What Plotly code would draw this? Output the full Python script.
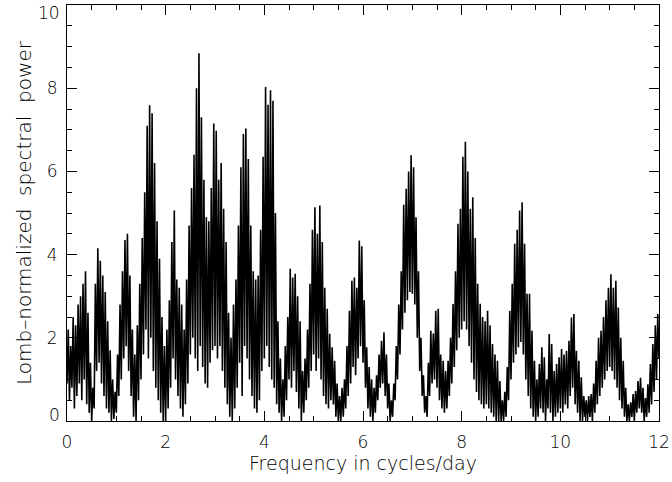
import numpy as np
import plotly.graph_objects as go

# Peak values of the fine oscillation, one every 0.05 cycles/day (at 0.025, 0.075, ...)
peaks = [
    # 0 - 1
    2.2, 1.8, 2.5, 2.3, 2.8, 3.0, 3.3, 3.6, 2.6, 1.4,
    0.8, 3.3, 4.15, 3.85, 3.5, 3.1, 2.4, 1.7, 1.0, 0.7,
    # 1 - 2
    1.6, 2.8, 3.6, 4.35, 4.5, 3.5, 2.2, 1.6, 2.3, 3.3,
    4.4, 5.5, 7.1, 7.59, 7.4, 6.2, 4.8, 3.9, 2.5, 1.8,
    # 2 - 3
    2.2, 2.9, 4.3, 5.06, 3.4, 3.2, 2.8, 2.2, 3.4, 4.7,
    5.6, 6.4, 8.0, 8.84, 7.3, 5.8, 4.9, 4.8, 5.6, 7.15,
    # 3 - 4
    6.98, 5.8, 6.2, 5.1, 4.3, 2.6, 2.0, 2.8, 3.4, 4.7,
    6.1, 6.9, 7.03, 6.3, 4.7, 3.6, 3.4, 3.5, 4.6, 6.35,
    # 4 - 5
    8.03, 7.6, 7.95, 7.7, 5.0, 2.4, 1.5, 1.0, 1.8, 2.5,
    3.66, 3.45, 3.54, 3.0, 2.4, 1.2, 1.5, 2.2, 3.3, 4.6,
    # 5 - 6
    5.14, 4.5, 5.18, 4.3, 3.2, 2.7, 2.1, 1.77, 1.45, 0.9,
    0.6, 0.8, 1.0, 1.8, 2.65, 3.37, 3.45, 3.2, 4.34, 4.2,
    # 6 - 7
    2.9, 1.77, 1.3, 1.0, 0.8, 1.1, 1.6, 1.93, 2.13, 1.6,
    0.9, 0.5, 0.9, 1.8, 2.8, 3.6, 5.2, 5.58, 6.0, 6.39,
    # 7 - 8
    6.1, 4.9, 3.6, 2.0, 1.1, 0.6, 1.4, 2.17, 2.1, 2.65,
    2.7, 1.6, 1.45, 1.2, 1.45, 2.0, 2.81, 3.6, 4.74, 5.1,
    # 8 - 9
    6.35, 6.71, 6.0, 5.1, 5.38, 4.4, 3.3, 2.82, 2.5, 2.4,
    2.65, 2.3, 1.85, 1.6, 1.45, 0.96, 0.5, 0.7, 1.3, 2.65,
    # 9 - 10
    3.3, 4.26, 4.6, 5.06, 5.26, 4.26, 3.06, 3.06, 2.17, 1.45,
    1.0, 1.37, 1.77, 1.53, 1.0, 2.09, 1.85, 1.2, 1.37, 1.53,
    # 10 - 11
    1.73, 1.6, 1.69, 1.93, 2.49, 2.57, 1.69, 1.45, 1.05, 0.6,
    0.5, 0.6, 0.65, 0.9, 1.45, 2.0, 2.17, 2.5, 2.9, 3.2,
    # 11 - 12
    3.53, 3.2, 3.37, 2.73, 2.0, 1.45, 0.8, 0.4, 0.45, 0.65,
    0.72, 0.96, 1.04, 0.8, 0.55, 0.88, 1.37, 1.85, 2.3, 2.57,
]

# Trough values, one every 0.05 cycles/day (at 0.0, 0.05, ..., 12.0)
troughs = [
    # 0 - 1
    0.9, 0.5, 0.8, 0.3, 0.6, 0.9, 0.5, 1.0, 0.4, 0.2,
    0.0, 0.3, 1.2, 1.4, 0.9, 0.6, 0.3, 0.2, 0.0, 0.05,
    # 1 - 2
    0.2, 0.6, 1.0, 1.5, 1.8, 1.2, 0.6, 0.1, 0.0, 0.5,
    1.0, 1.6, 2.2, 1.5, 2.0, 1.2, 0.8, 0.5, 0.2, 0.0,
    # 2 - 3
    0.0, 0.3, 0.8, 1.5, 1.0, 0.6, 0.3, 0.1, 0.4, 0.9,
    1.6, 2.0, 1.5, 1.2, 1.8, 1.3, 0.9, 0.8, 1.4, 1.7,
    # 3 - 4
    1.8, 1.5, 1.8, 1.2, 0.8, 0.4, 0.1, 0.0, 0.3, 0.8,
    1.4, 0.6, 1.8, 1.5, 1.0, 0.6, 0.3, 0.2, 0.5, 1.2,
    # 4 - 5
    1.5, 1.8, 1.3, 1.0, 0.8, 0.4, 0.2, 0.0, 0.1, 0.5,
    1.0, 0.8, 1.2, 0.7, 0.3, 0.0, 0.2, 0.5, 0.8, 1.2,
    # 5 - 6
    1.6, 1.2, 1.5, 1.0, 0.6, 0.4, 0.3, 0.5, 0.4, 0.1,
    0.0, 0.0, 0.1, 0.3, 0.6, 0.9, 1.3, 1.1, 1.5, 1.8,
    # 6 - 7
    1.4, 0.8, 0.3, 0.1, 0.0, 0.2, 0.5, 0.8, 0.9, 0.6,
    0.3, 0.0, 0.1, 0.5, 1.0, 1.6, 2.2, 2.6, 2.9, 3.1,
    # 7 - 8
    3.06, 2.8, 2.0, 1.2, 0.6, 0.2, 0.1, 0.6, 0.9, 1.0,
    0.8, 0.5, 0.3, 0.2, 0.3, 0.6, 0.9, 1.3, 1.7, 2.0,
    # 8 - 9
    2.2, 2.4, 2.2, 1.8, 1.4, 1.0, 0.7, 0.5, 0.4, 0.3,
    0.4, 0.3, 0.2, 0.1, 0.0, 0.0, 0.0, 0.0, 0.1, 0.5,
    # 9 - 10
    1.0, 1.4, 1.6, 1.77, 1.9, 1.6, 1.0, 0.6, 0.3, 0.1,
    0.0, 0.1, 0.3, 0.2, 0.0, 0.3, 0.2, 0.0, 0.1, 0.2,
    # 10 - 11
    0.3, 0.2, 0.4, 0.3, 0.6, 0.8, 0.4, 0.2, 0.0, 0.0,
    0.1, 0.0, 0.1, 0.0, 0.2, 0.4, 0.6, 0.8, 1.0, 1.2,
    # 11 - 12
    1.3, 1.2, 1.0, 0.8, 0.5, 0.3, 0.1, 0.0, 0.0, 0.1,
    0.0, 0.2, 0.3, 0.2, 0.0, 0.1, 0.2, 0.4, 0.7, 1.0,
    # 12
    1.5,
]

x_ticks = [0, 2, 4, 6, 8, 10, 12]
y_ticks = [0, 2, 4, 6, 8, 10]

assert len(peaks) == 240 and len(troughs) == 241

power = np.empty(len(peaks) + len(troughs))
power[0::2] = troughs
power[1::2] = peaks
freq = np.linspace(0, 12, len(power))

fig = go.Figure()
fig.add_trace(go.Scatter(x=freq, y=power, mode="lines",
                         line=dict(color="black", width=1.6),
                         showlegend=False, hoverinfo="skip"))

FAM = "DejaVu Sans ExtraLight, DejaVu Sans"
tick_font = dict(family=FAM, size=17, color="#000", weight=200)
xtitle_font = dict(family=FAM, size=19, color="#000", weight=200)
ytitle_font = dict(family=FAM, size=20, color="#000", weight=200)
axis_common = dict(showgrid=False, zeroline=False, showline=True, linecolor="black",
                   linewidth=1, mirror="ticks", ticks="inside", ticklen=10,
                   tickcolor="black", tickwidth=1, tickfont=tick_font,
                   automargin=False, ticklabeloverflow="allow")

y_min, y_max = min(y_ticks), max(y_ticks)
NB = "\u00a0"
fig.update_xaxes(range=[0, 12], tickvals=x_ticks, ticktext=[str(v) for v in x_ticks],
                 minor=dict(ticks="inside", dtick=0.5, ticklen=5, tickcolor="black"),
                 ticklabelstandoff=6,
                 title=dict(text="Frequency in cycles/day", font=xtitle_font, standoff=3),
                 **axis_common)
fig.update_yaxes(range=[y_min, y_max], tickvals=y_ticks,
                 ticktext=["" if v in (y_min, y_max) else str(v) for v in y_ticks],
                 minor=dict(ticks="inside", dtick=0.5, ticklen=5, tickcolor="black"),
                 ticklabelstandoff=5,
                 title=dict(text=f"Lomb\u2013normalized{NB}{NB}spectral{NB}{NB}power",
                            font=ytitle_font, standoff=9),
                 **axis_common)

# end labels of the y axis, nudged inside the figure as in the reference
for v, shift in ((y_min, 6), (y_max, -8)):
    fig.add_annotation(x=0, xref="paper", y=v, yref="y", text=str(v), showarrow=False,
                       xanchor="right", yanchor="middle", xshift=-5, yshift=shift,
                       font=tick_font)

fig.update_layout(width=672, height=482, margin=dict(l=67, r=13, t=5, b=61),
                  plot_bgcolor="white", paper_bgcolor="white", font=xtitle_font)

fig.write_html("out.html", config={"displayModeBar": False},
               post_script="document.body.style.margin='0';")
